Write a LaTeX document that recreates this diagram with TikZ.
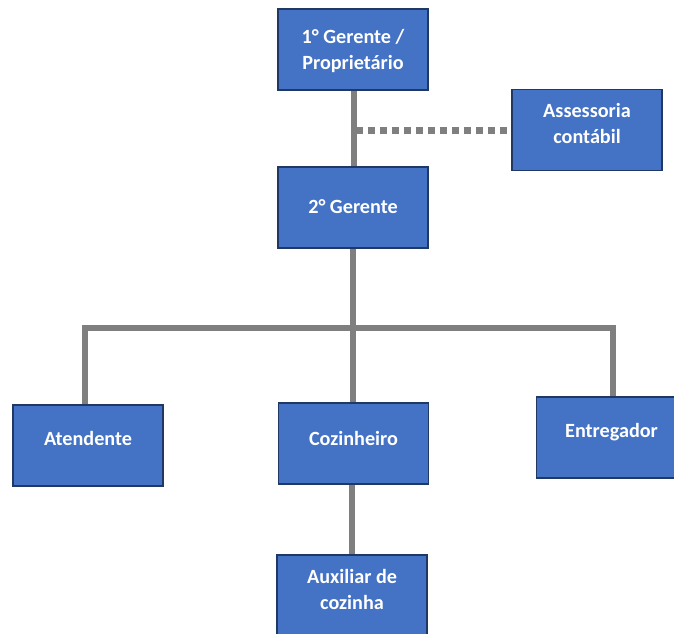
\documentclass[tikz,border=0pt]{standalone}
\usepackage{fontspec}
\setmainfont{Carlito}
\usetikzlibrary{backgrounds}
\definecolor{boxfill}{HTML}{4472C4}
\definecolor{boxline}{HTML}{203864}
\definecolor{linkgray}{HTML}{7F7F7F}
\begin{document}
\begin{tikzpicture}[x=1pt,y=-1pt,
  box/.style={draw=boxline, line width=1.3pt, fill=boxfill,
    minimum width=150pt, minimum height=81pt, inner sep=0pt},
  txt/.style={text=white, font=\fontsize{20.2}{26}\selectfont\bfseries,
    align=center, inner sep=0pt},
  link/.style={draw=linkgray, line width=6pt},
  advice/.style={draw=linkgray, line width=7pt, dash pattern=on 7pt off 5pt}]
\useasboundingbox (0,0) rectangle (674,633);
\clip (0,0) rectangle (674,633);

% boxes
\node[box] (g1)  at (353,49.5)   {};
\node[box] (ass) at (587,130)    {};
\node[box] (g2)  at (353,207.5)  {};
\node[box] (at)  at (88,445.5)   {};
\node[box] (coz) at (353.5,443.5){};
\node[box] (en)  at (611.5,437.5){};
\node[box] (aux) at (352,595.5)  {};

% junction points of the tree
\coordinate (adv) at (354,130);
\coordinate (busL) at (85,328);
\coordinate (busM) at (353,328);
\coordinate (busR) at (613,328);

% connectors, behind the boxes
\begin{scope}[on background layer]
\path[link] (g1.south -| adv) -- (g2.north -| adv);
\path[advice] (adv) ++(2,0) -- (ass.west);
\path[link] (g2.south) -- (busM);
\path[link, line join=miter] (at.north -| busL) -- (busL) -- (busR) -- (en.north -| busR);
\path[link] (busM) -- (coz.north -| busM);
\path[link] (coz.south -| aux) -- (aux.north);
\end{scope}

% labels
\node[txt] (g1t)  at (353,51)    {1° Gerente /\\Proprietário};
\node[txt] (asst) at (587,123)   {Assessoria\\contábil};
\node[txt] (g2t)  at (353,207)   {2° Gerente};
\node[txt] (att)  at (88,438)    {Atendente};
\node[txt] (cozt) at (353.5,438) {Cozinheiro};
\node[txt] (ent)  at (611.5,432) {Entregador};
\node[txt] (auxt) at (352,589)   {Auxiliar de\\cozinha};
\end{tikzpicture}
\end{document}
